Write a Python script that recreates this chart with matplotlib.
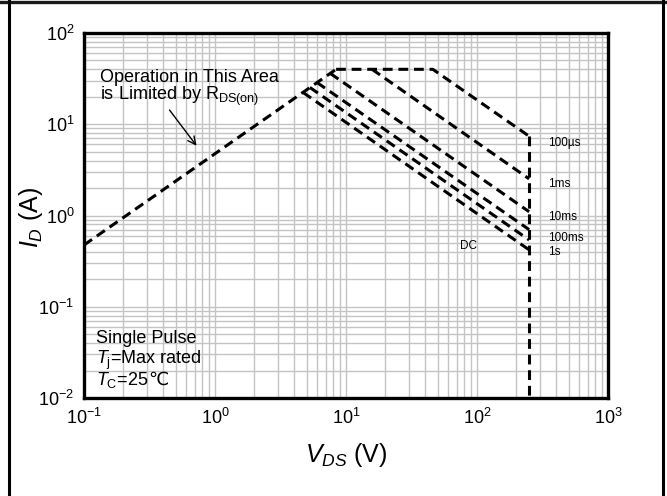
import matplotlib
matplotlib.use("Agg")
import matplotlib.pyplot as plt
from matplotlib.lines import Line2D
from matplotlib.ticker import FixedLocator, FixedFormatter, LogLocator, NullFormatter

plt.rcParams['font.family'] = ['Liberation Sans', 'DejaVu Sans']
plt.rcParams['mathtext.fontset'] = 'custom'
plt.rcParams['mathtext.rm'] = 'Liberation Sans'
plt.rcParams['mathtext.it'] = 'Liberation Sans:italic'
plt.rcParams['mathtext.bf'] = 'Liberation Sans:bold'
plt.rcParams['axes.unicode_minus'] = False

# ---- data ----
rdson_v = [0.1, 8.4]
rdson_i = [0.475, 40.0]

v_100us = [8.4, 46.0, 250.0]
i_100us = [40.0, 40.0, 7.4]

v_1ms = [15.8, 250.0]
i_1ms = [40.0, 2.52]

v_10ms = [7.6, 250.0]
i_10ms = [36.0, 1.1]

v_100ms = [6.0, 250.0]
i_100ms = [28.7, 0.70]

v_1s = [5.3, 250.0]
i_1s = [25.3, 0.54]

v_dc = [4.7, 250.0]
i_dc = [22.3, 0.42]

v_bv = [250.0, 250.0]
i_bv = [7.4, 0.01]

x_ticks = [1e-1, 1e0, 1e1, 1e2, 1e3]
x_ticklabels = [r'$10^{-1}$', r'$10^{0}$', r'$10^{1}$', r'$10^{2}$', r'$10^{3}$']
y_ticks = [1e-2, 1e-1, 1e0, 1e1, 1e2]
y_ticklabels = [r'$10^{-2}$', r'$10^{-1}$', r'$10^{0}$', r'$10^{1}$', r'$10^{2}$']

curve_labels = ['100µs', '1ms', '10ms', '100ms', '1s']

# ---- figure ----
fig = plt.figure(figsize=(6.67, 4.96), dpi=100)
ax = fig.add_axes([84/667, 1-398/496, 524/667, 365/496])
ax.set_xscale('log')
ax.set_yscale('log')
ax.set_xlim(1e-1, 1e3)
ax.set_ylim(1e-2, 1e2)

ax.xaxis.set_major_locator(FixedLocator(x_ticks))
ax.xaxis.set_major_formatter(FixedFormatter(x_ticklabels))
ax.yaxis.set_major_locator(FixedLocator(y_ticks))
ax.yaxis.set_major_formatter(FixedFormatter(y_ticklabels))
ax.xaxis.set_minor_locator(LogLocator(base=10, subs=range(2, 10), numticks=20))
ax.yaxis.set_minor_locator(LogLocator(base=10, subs=range(2, 10), numticks=20))
ax.xaxis.set_minor_formatter(NullFormatter())
ax.yaxis.set_minor_formatter(NullFormatter())
ax.tick_params(which='both', length=0, labelsize=13, pad=7)
ax.grid(which='both', color='#c4c4c4', lw=1.0)
ax.set_axisbelow(True)
for s in ax.spines.values():
    s.set_linewidth(2.4)
    s.set_color('black')

dash = dict(color='black', lw=2.2, linestyle=(0, (3.2, 1.9)), dash_capstyle='butt')
for vv, ii in [(rdson_v, rdson_i), (v_100us, i_100us), (v_1ms, i_1ms), (v_10ms, i_10ms),
               (v_100ms, i_100ms), (v_1s, i_1s), (v_dc, i_dc), (v_bv, i_bv)]:
    ax.plot(vv, ii, **dash)

# curve labels
lab_y = [0.699, 0.586, 0.496, 0.438, 0.400]
for t, yy in zip(curve_labels, lab_y):
    ax.text(0.885, yy, t, transform=ax.transAxes, fontsize=8.5, ha='left', va='center')
ax.text(0.733, 0.416, 'DC', transform=ax.transAxes, fontsize=8.5, ha='center', va='center')

# annotation
ax.text(0.031, 0.879, 'Operation in This Area', transform=ax.transAxes, fontsize=13,
        ha='left', va='center')
ax.text(0.031, 0.827, r'is Limited by R$_{\mathrm{DS(on)}}$', transform=ax.transAxes,
        fontsize=13, ha='left', va='center')
ax.annotate('', xy=(0.218, 0.685), xytext=(0.160, 0.795), xycoords='axes fraction',
            textcoords='axes fraction',
            arrowprops=dict(arrowstyle='->', color='black', lw=1.0, mutation_scale=14))

ax.text(0.023, 0.164, 'Single Pulse', transform=ax.transAxes, fontsize=13, ha='left', va='center')
ax.text(0.023, 0.104, r'$T_{\mathrm{j}}$=Max rated', transform=ax.transAxes, fontsize=13,
        ha='left', va='center')
tc = ax.text(0.023, 0.049, r'$T_{\mathrm{C}}$=25', transform=ax.transAxes, fontsize=13,
             ha='left', va='center')
ax.annotate('℃', xy=(1.0, 0.5), xycoords=tc, fontsize=13, ha='left', va='center',
            family=['DejaVu Sans'])

# axis labels
fig.text(346/667, 1-455/496, r'$V_{DS}$ (V)', fontsize=18, ha='center', va='center')
fig.text(31/667, 1-217/496, r'$I_{D}$ (A)', fontsize=18, ha='center', va='center', rotation=90)

# outer frame
fig.add_artist(Line2D([0, 1], [1-1.5/496, 1-1.5/496], lw=2.4, color='#1a1a1a'))
fig.add_artist(Line2D([9/667, 9/667], [0, 1], lw=2.2, color='black'))
fig.add_artist(Line2D([663/667, 663/667], [0, 1], lw=2.2, color='black'))

fig.savefig('out.png', dpi=100)
